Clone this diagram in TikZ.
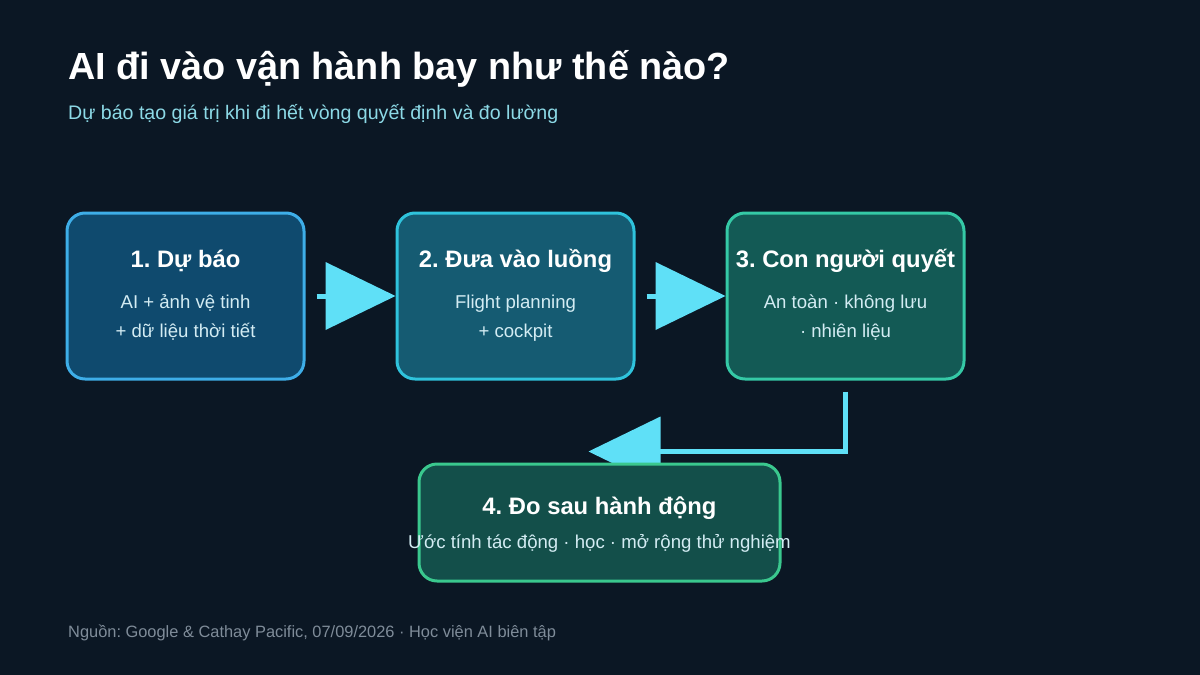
\documentclass[tikz,border=0pt]{standalone}
\usepackage{fontspec}
\setmainfont{Liberation Sans}
\usetikzlibrary{calc}
\pgfdeclarelayer{bglayer}
\pgfdeclarelayer{arrowlayer}
\pgfsetlayers{bglayer,arrowlayer,main}
\definecolor{bgc}{HTML}{0B1724}
\definecolor{subc}{HTML}{8CD9E6}
\definecolor{arrc}{HTML}{5FE0F7}
\definecolor{fillA}{HTML}{0F4A6E}\definecolor{edgeA}{HTML}{3EAEE8}
\definecolor{fillB}{HTML}{155B72}\definecolor{edgeB}{HTML}{2FC3DC}
\definecolor{fillC}{HTML}{135A55}\definecolor{edgeC}{HTML}{35C9A6}
\definecolor{fillD}{HTML}{134F4A}\definecolor{edgeD}{HTML}{3AC88E}
\definecolor{bodyc}{HTML}{D3ECF3}
\definecolor{footc}{HTML}{7F8C99}
\frenchspacing
\tikzset{
  card/.style={draw, line width=3pt, rounded corners=18pt, inner sep=0pt},
  cardtitle/.style={text=white, font=\fontsize{23.8}{28}\selectfont\bfseries, inner sep=0pt, anchor=base},
  cardbody/.style={text=bodyc, font=\fontsize{18.6}{22}\selectfont, inner sep=0pt, anchor=base},
  shaft/.style={draw=arrc, line width=5pt},
  head/.style={fill=arrc}
}
\begin{document}
\begin{tikzpicture}[x=1pt,y=-1pt]
\begin{pgfonlayer}{bglayer}
\fill[bgc] (0,0) rectangle (1200,675);
\end{pgfonlayer}
\useasboundingbox (0,0) rectangle (1200,675);

\node[anchor=base west, inner sep=0pt, text=white, font=\fontsize{37.8}{44}\selectfont\bfseries] (title) at (68,79) {AI đi vào vận hành bay như thế nào?};
\node[anchor=base west, inner sep=0pt, text=subc, font=\fontsize{19.6}{23}\selectfont] (subtitle) at (68,119) {Dự báo tạo giá trị khi đi hết vòng quyết định và đo lường};

% cards
\node[card, fill=fillA, draw=edgeA, minimum width=237pt, minimum height=166pt] (b1) at (185.5,296) {};
\node[card, fill=fillB, draw=edgeB, minimum width=237pt, minimum height=166pt] (b2) at (515.5,296) {};
\node[card, fill=fillC, draw=edgeC, minimum width=237pt, minimum height=166pt] (b3) at (845.5,296) {};
\node[card, fill=fillD, draw=edgeD, minimum width=361pt, minimum height=117pt] (b4) at (599.5,522.5) {};

\node[cardtitle] (t1) at (185.5,267) {1. Dự báo};
\node[cardbody] (s1a) at (185.5,308) {AI + ảnh vệ tinh};
\node[cardbody] (s1b) at (185.5,337) {+ dữ liệu thời tiết};

\node[cardtitle] (t2) at (515.5,267) {2. Đưa vào luồng};
\node[cardbody] (s2a) at (515.5,308) {Flight planning};
\node[cardbody] (s2b) at (515.5,337) {+ cockpit};

\node[cardtitle] (t3) at (845.5,267) {3. Con người quyết};
\node[cardbody] (s3a) at (845.5,308) {An toàn · không lưu};
\node[cardbody] (s3b) at (845.5,337) {· nhiên liệu};

\node[cardtitle] (t4) at (599.5,514) {4. Đo sau hành động};
\node[cardbody] (s4a) at (599.5,548) {Ước tính tác động · học · mở rộng thử nghiệm};

% connectors
\begin{pgfonlayer}{arrowlayer}
\draw[shaft] ($(b1.east)+(11,0)$) -- ($(b2.west)+(-66,0)$);
\fill[head] (b2.west) -- ($(b2.west)+(-70,-34)$) -- ($(b2.west)+(-70,34)$) -- cycle;
\draw[shaft] ($(b2.east)+(11,0)$) -- ($(b3.west)+(-66,0)$);
\fill[head] (b3.west) -- ($(b3.west)+(-70,-34)$) -- ($(b3.west)+(-70,34)$) -- cycle;
\coordinate (tip4) at ($(b4.north)+(-11,-11)$);
\draw[shaft] ($(b3.south)+(0,11)$) |- ($(tip4)+(68,0)$);
\fill[head] (tip4) -- ($(tip4)+(72,-35)$) -- ($(tip4)+(72,35)$) -- cycle;
\end{pgfonlayer}

\node[anchor=base west, inner sep=0pt, text=footc, font=\fontsize{16.4}{19}\selectfont] (foot) at (68,637) {Nguồn: Google \& Cathay Pacific, 07/09/2026 · Học viện AI biên tập};
\end{tikzpicture}
\end{document}
